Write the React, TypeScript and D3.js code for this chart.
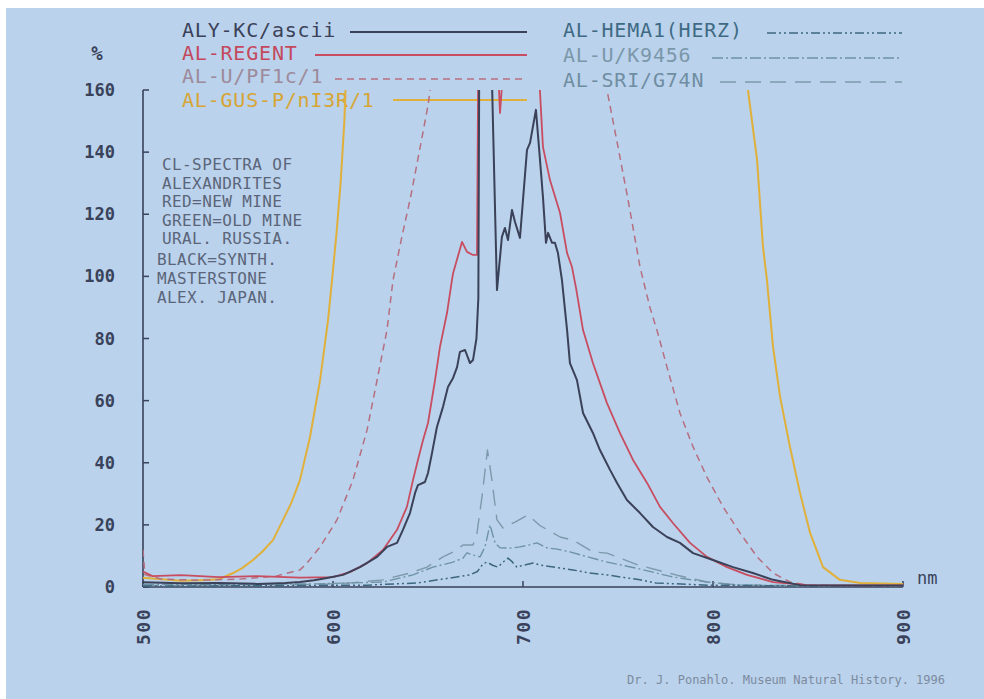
import React from "react";
import * as d3 from "d3";

type Pt = [number, number];

// ---- axis ticks ----
const yTickValues = [0, 20, 40, 60, 80, 100, 120, 140, 160];
const xTickValues = [500, 600, 700, 800, 900];

// ---- series: [wavelength nm, intensity %] ----
const alyKcAscii: Pt[] = [
  [500, 1.5], [520, 1.2], [540, 1.3], [560, 1.0], [575, 1.3], [582.6, 1.6], [590, 2.2], [596.8, 2.9],
  [605.3, 3.9], [614.2, 6.4], [623.2, 9.7], [628.4, 12.9], [633.7, 14.2], [636.8, 18.4], [640.5, 23.8],
  [643.2, 30.3], [644.7, 32.8], [648.4, 33.8], [650, 36.7], [652.1, 43.1], [654.7, 51.5], [657.9, 58],
  [660.5, 64.4], [663.2, 67.3], [665.3, 70.8], [666.8, 75.7], [669.5, 76.3], [672.1, 72.1], [673.7, 73.1],
  [675.5, 80], [676.5, 93], [677, 175], [683.2, 175], [686.3, 95.6], [688.9, 112.7], [690.5, 115.6],
  [692.1, 111.7], [694.2, 121.4], [695.8, 117.5], [698.4, 112.4], [702.1, 140.7], [703.7, 143],
  [706.8, 153.6], [708.4, 141.7], [710.5, 125.6], [712.1, 110.8], [713.2, 114], [715.3, 110.8],
  [716.8, 110.8], [718.4, 107.5], [720.5, 98.8], [723.2, 82.7], [724.7, 72.1], [728.4, 66.6],
  [731.6, 56], [736.8, 49.6], [740.5, 44.1], [745.8, 37.7], [749.5, 33.5], [754.7, 28], [761.6, 23.8],
  [768.4, 19.3], [775.8, 16.1], [782.6, 14.2], [789.5, 10.9], [800, 8.7], [810.5, 6.4], [821, 4.5],
  [831.6, 2.3], [845.8, 0.6], [870, 0.5], [900, 0.5],
];

const alRegent: Pt[] = [
  [500, 5], [505, 3.5], [520, 3.8], [540, 3.2], [560, 3.5], [582.6, 3], [600, 3.2], [608.9, 4.8],
  [617.9, 7.7], [626.3, 11.9], [633.7, 18.4], [638.9, 25.8], [642.1, 34.4], [644.7, 40.9], [647.4, 47.3],
  [650, 52.8], [653.7, 66.6], [656.3, 77.3], [660, 88.2], [662.6, 98.8], [663.2, 101], [667.9, 111.1],
  [670.5, 107.9], [673.7, 106.9], [675.8, 106.9], [676.5, 175], [686.3, 175], [687.9, 152.6],
  [690.5, 175], [708.5, 175], [708.9, 160], [710.5, 141.7], [714.2, 131], [719.5, 120.4], [723.2, 107.5],
  [725.8, 103], [728, 96], [731.6, 82.7], [736.8, 72.1], [744.2, 59.2], [751, 49.6], [757.9, 40.9],
  [765.3, 33.5], [772.1, 25.8], [778.9, 20.6], [787.9, 14.2], [796.8, 9.7], [807.4, 6.4], [817.9, 3.9],
  [831.6, 1.6], [849.5, 0.6], [870, 0.5], [900, 0.5],
];

const alUPf1c: Pt[] = [
  [500, 12], [501, 4], [510, 2.5], [530, 2.2], [550, 2.5], [570, 3.5], [582.6, 5.5], [586.3, 7.7],
  [593.2, 12.9], [602.1, 21.6], [610.5, 34.4], [617.9, 50.5], [623.2, 66.6], [628.4, 82.7], [631.6, 98.8],
  [636, 112], [641, 126], [646, 142], [650, 155], [653, 168], [744, 168], [744.2, 160], [750, 141.7],
  [755.3, 124.6], [761.6, 103], [766.8, 90], [770.5, 82.7], [775.8, 70.8], [782.6, 56], [789.5, 45.1],
  [796.8, 35.4], [805.3, 25.8], [814.2, 17.4], [823.2, 9.7], [831.6, 4.5], [840.5, 1.6], [849.5, 0.6],
  [870, 0.4], [900, 0.4],
];

const alGusP: Pt[] = [
  [500, 3], [510, 2.5], [520, 2], [530, 2.2], [540, 2.5], [547.4, 4.5], [552, 6], [557.9, 8.7], [563, 11.5],
  [568.4, 15.1], [573.7, 21.6], [578, 27], [582.6, 34.4], [587.9, 48.3], [593.2, 66.6], [597.4, 86],
  [599.5, 98.8], [602, 115], [604, 130], [606, 150], [607, 168], [818, 168], [818.4, 160], [823.2, 137.5],
  [826.3, 109.5], [828.4, 98.8], [831.6, 77.3], [835.3, 61.2], [840.5, 45.1], [845.8, 30.3], [851.1, 17.4],
  [857.9, 6.4], [866.8, 2.3], [877.4, 1.3], [900, 1],
];

const alHema1: Pt[] = [
  [500, 0.3], [560, 0.4], [617.9, 0.6], [644.2, 1.3], [661.6, 2.9], [672.1, 3.9], [676, 5], [679, 7.5],
  [681.1, 8], [684, 7], [686.8, 6.4], [689.5, 8], [692.1, 9.3], [694.5, 8], [696.8, 6.4], [700, 7],
  [705.3, 7.7], [708.9, 7.1], [726.3, 5.5], [735, 4.5], [744.2, 3.9], [761.6, 2.3], [770, 1.3],
  [797, 0.6], [850, 0.3], [900, 0.3],
];

const alUK9456: Pt[] = [
  [500, 0.8], [550, 0.8], [590, 1], [608.9, 1.3], [626.3, 1.6], [642.1, 3.9], [652.6, 6.4], [663.2, 8],
  [668.4, 9.3], [670.5, 11], [673.7, 10.3], [677.4, 9.7], [680, 12.9], [682.6, 20], [685.3, 14.2],
  [687.9, 12.6], [693, 12.5], [698.4, 12.9], [703, 13.5], [707.4, 14.2], [712.6, 12.6], [718, 12.2],
  [724.7, 11.3], [743, 8.2], [760, 6], [779, 3.2], [796.8, 1.6], [814, 0.6], [850, 0.4], [900, 0.3],
];

const alSriG74n: Pt[] = [
  [500, 0.5], [550, 0.6], [590, 0.8], [608.9, 1.3], [626.3, 2.3], [640.5, 4.5], [649.5, 6.4], [657.9, 9.7],
  [663.2, 11.3], [668.4, 13.5], [673.7, 13.5], [675.8, 17.4], [678.4, 29], [681.3, 44.1], [683.5, 35],
  [686.3, 21.6], [689.5, 19], [695.8, 20.9], [702.6, 23.2], [708.9, 19.8], [719.5, 16.1], [726.3, 15.1],
  [736.8, 11.3], [744.2, 10.9], [761, 7], [781, 3.8], [796.8, 1.6], [814.2, 0.6], [850, 0.4], [900, 0.3],
];

const seriesNames = [
  "ALY-KC/ascii", "AL-REGENT", "AL-U/PF1c/1", "AL-GUS-P/nI3R/1",
  "AL-HEMA1(HERZ)", "AL-U/K9456", "AL-SRI/G74N",
];
const seriesData: Pt[][] = [alyKcAscii, alRegent, alUPf1c, alGusP, alHema1, alUK9456, alSriG74n];

const noteLines = [
  "CL-SPECTRA OF", "ALEXANDRITES", "RED=NEW MINE", "GREEN=OLD MINE", "URAL. RUSSIA.",
  "BLACK=SYNTH.", "MASTERSTONE", "ALEX. JAPAN.",
];
const footerText = "Dr. J. Ponahlo. Museum Natural History. 1996";
const yUnit = "%";
const xUnit = "nm";

// ---- styles / layout (not data) ----
const styles = [
  { stroke: "#3a4158", text: "#3a4158", width: 2, dash: "" },
  { stroke: "#c84d60", text: "#c4485c", width: 1.8, dash: "" },
  { stroke: "#b66f80", text: "#9d8a9a", width: 1.5, dash: "7 5" },
  { stroke: "#e0b03a", text: "#d7a534", width: 2, dash: "" },
  { stroke: "#3e6780", text: "#3f6a84", width: 1.5, dash: "9 3 2 3 2 3" },
  { stroke: "#6e93a5", text: "#7a97aa", width: 1.4, dash: "11 3 2 3" },
  { stroke: "#7d9aac", text: "#6f8ea2", width: 1.4, dash: "16 9" },
];
const legendLayout = [
  { tx: 182, ty: 37, x1: 350, x2: 527, ly: 32 },
  { tx: 182, ty: 60, x1: 315, x2: 527, ly: 55 },
  { tx: 182, ty: 83, x1: 335, x2: 527, ly: 79 },
  { tx: 182, ty: 107, x1: 393, x2: 527, ly: 100 },
  { tx: 563, ty: 37, x1: 767, x2: 902, ly: 33 },
  { tx: 563, ty: 62, x1: 712, x2: 902, ly: 58 },
  { tx: 563, ty: 87, x1: 720, x2: 902, ly: 82 },
];

const FONT = "'DejaVu Sans Mono', 'Liberation Mono', monospace";
const AXIS = "#39425a";

export default function App() {
  const x = d3.scaleLinear().domain([500, 900]).range([143, 903]);
  const y = d3.scaleLinear().domain([0, 160]).range([587, 90]);
  const line = d3
    .line<Pt>()
    .x((d) => x(d[0]))
    .y((d) => y(d[1]))
    .curve(d3.curveLinear);

  const drawOrder = [3, 2, 6, 5, 4, 1, 0];

  return (
    <svg
      width={984}
      height={699}
      viewBox="0 0 984 699"
      style={{ position: "fixed", left: 0, top: 0, display: "block" }}
    >
      <defs>
        <clipPath id="plotClip">
          <rect x={x(500)} y={y(160)} width={x(900) - x(500)} height={y(0) - y(160) + 2} />
        </clipPath>
      </defs>
      <rect x={0} y={0} width={984} height={699} fill="#ffffff" />
      <rect x={6} y={8} width={978} height={691} fill="#bad2ec" />

      {/* legend */}
      {seriesNames.map((name, i) => {
        const s = styles[i];
        const L = legendLayout[i];
        return (
          <g key={name}>
            <text
              x={L.tx}
              y={L.ty}
              fill={s.text}
              fontFamily={FONT}
              fontSize={20}
              letterSpacing={0.8}
            >
              {name}
            </text>
            <line
              x1={L.x1}
              x2={L.x2}
              y1={L.ly}
              y2={L.ly}
              stroke={s.stroke}
              strokeWidth={s.width}
              strokeDasharray={s.dash || undefined}
            />
          </g>
        );
      })}

      {/* y unit */}
      <text x={97} y={60} textAnchor="middle" fill={AXIS} fontFamily={FONT} fontSize={19} fontWeight="bold">
        {yUnit}
      </text>

      {/* axes */}
      <line x1={x(500)} x2={x(500)} y1={y(160)} y2={y(0)} stroke={AXIS} strokeWidth={1.6} />
      <line x1={x(500)} x2={x(900)} y1={y(0)} y2={y(0)} stroke={AXIS} strokeWidth={1.6} />
      {yTickValues.map((v) => (
        <g key={"yt" + v}>
          <line x1={x(500)} x2={x(500) + 6} y1={y(v)} y2={y(v)} stroke={AXIS} strokeWidth={1.5} />
          <text
            x={115}
            y={y(v) + 6}
            textAnchor="end"
            fill={AXIS}
            fontFamily={FONT}
            fontSize={17}
            fontWeight="bold"
          >
            {v}
          </text>
        </g>
      ))}
      {xTickValues.map((v) => (
        <g key={"xt" + v}>
          <line x1={x(v)} x2={x(v)} y1={y(0)} y2={y(0) - 6} stroke={AXIS} strokeWidth={1.5} />
          <text
            transform={`translate(${x(v) + 6.5},${608}) rotate(-90)`}
            textAnchor="end"
            fill={AXIS}
            fontFamily={FONT}
            fontSize={18}
            fontWeight="bold"
            letterSpacing={1.5}
          >
            {v}
          </text>
        </g>
      ))}
      <text x={917} y={584} fill={AXIS} fontFamily={FONT} fontSize={17}>
        {xUnit}
      </text>

      {/* notes */}
      {noteLines.map((t, i) => (
        <text
          key={t}
          x={i < 5 ? 162 : 157}
          y={[170, 188.5, 207, 225.5, 244, 265, 284, 303][i]}
          fill="#5b6579"
          fontFamily={FONT}
          fontSize={16}
          letterSpacing={0.4}
        >
          {t}
        </text>
      ))}

      {/* curves */}
      <g clipPath="url(#plotClip)">
        {drawOrder.map((i) => (
          <path
            key={"s" + i}
            d={line(seriesData[i]) || ""}
            fill="none"
            stroke={styles[i].stroke}
            strokeWidth={styles[i].width}
            strokeDasharray={styles[i].dash || undefined}
            strokeLinejoin="round"
          />
        ))}
      </g>

      {/* footer */}
      <text x={945} y={684} textAnchor="end" fill="#7c8b9e" fontFamily={FONT} fontSize={12}>
        {footerText}
      </text>
    </svg>
  );
}
